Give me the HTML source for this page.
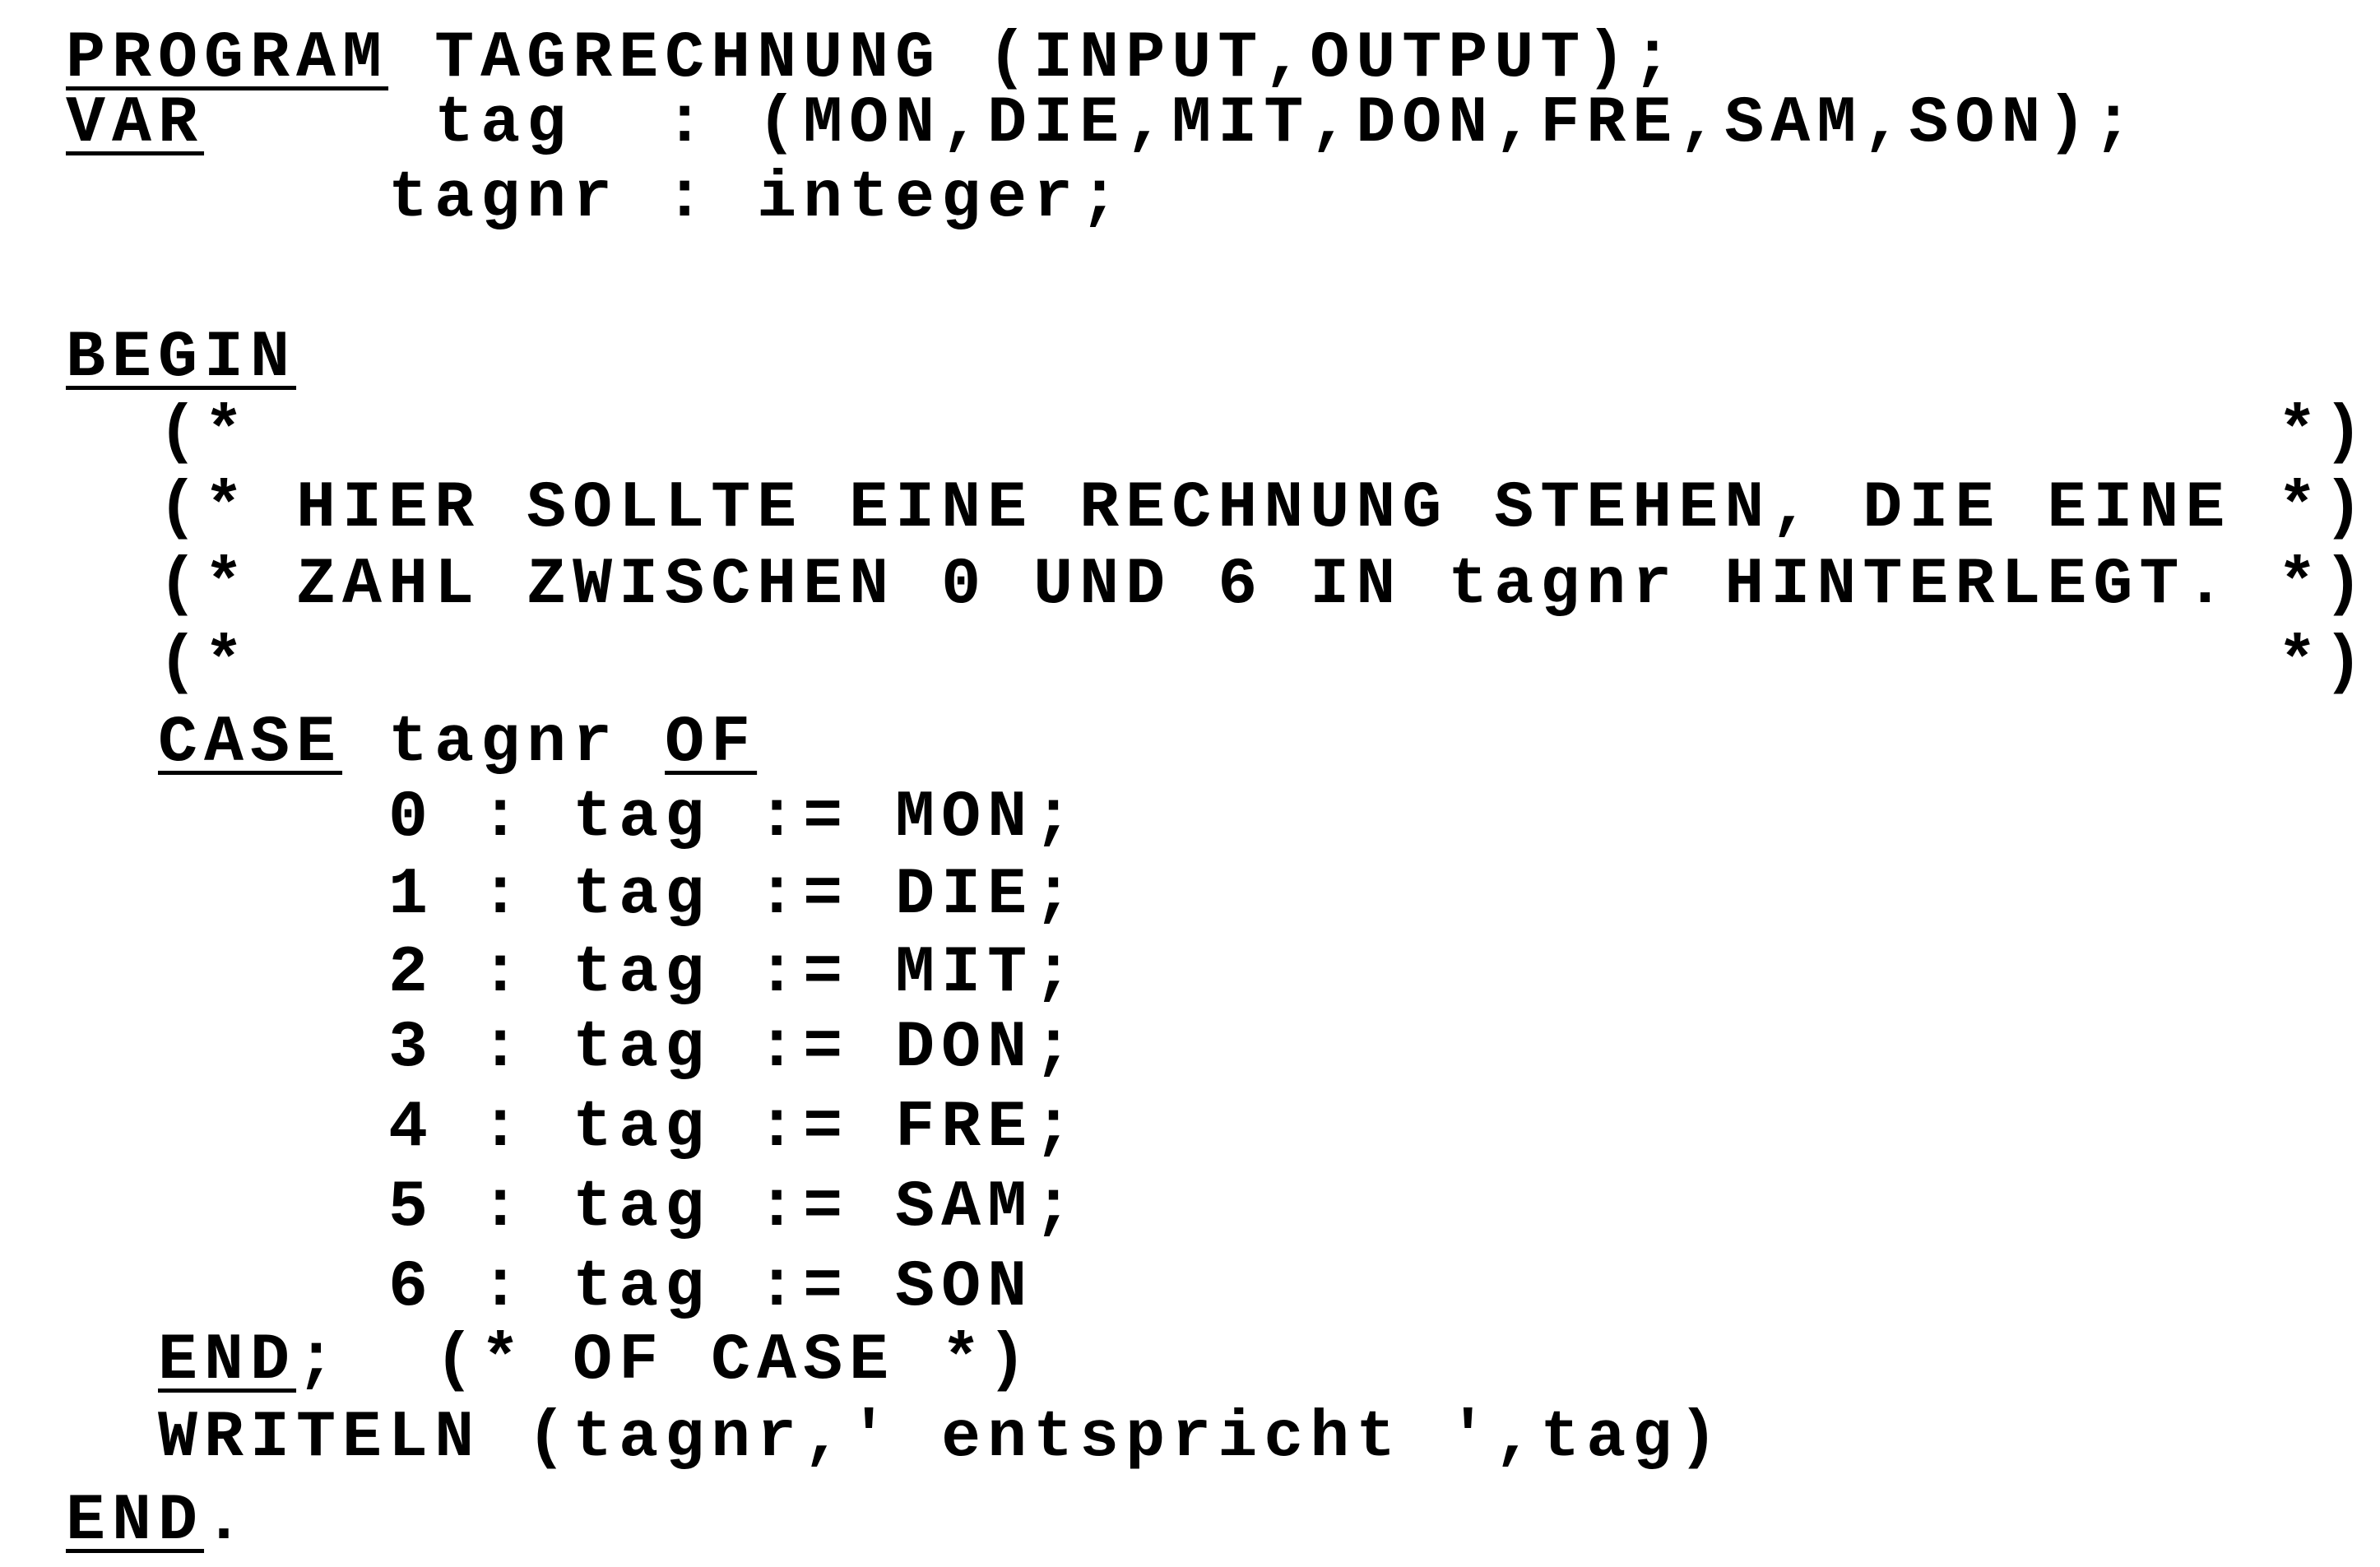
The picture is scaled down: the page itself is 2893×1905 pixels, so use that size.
<!DOCTYPE html>
<html><head><meta charset="utf-8"><style>
html,body{margin:0;padding:0;background:#fff;}
body{width:2893px;height:1905px;position:relative;overflow:hidden;}
.l{position:absolute;left:80px;height:100px;line-height:100px;white-space:pre;
font-family:"Liberation Mono",monospace;font-weight:bold;font-size:80px;letter-spacing:8px;color:#000;}
u{text-decoration:underline;text-decoration-thickness:5px;text-underline-offset:13px;}
</style></head><body>
<div class="l" style="top:22px"><u>PROGRAM</u> TAGRECHNUNG (INPUT,OUTPUT);</div>
<div class="l" style="top:101px"><u>VAR</u>     tag  : (MON,DIE,MIT,DON,FRE,SAM,SON);</div>
<div class="l" style="top:192px">       tagnr : integer;</div>
<div class="l" style="top:386px"><u>BEGIN</u></div>
<div class="l" style="top:477px">  (*                                            *)</div>
<div class="l" style="top:569px">  (* HIER SOLLTE EINE RECHNUNG STEHEN, DIE EINE *)</div>
<div class="l" style="top:662px">  (* ZAHL ZWISCHEN 0 UND 6 IN tagnr HINTERLEGT. *)</div>
<div class="l" style="top:757px">  (*                                            *)</div>
<div class="l" style="top:854px">  <u>CASE</u> tagnr <u>OF</u></div>
<div class="l" style="top:945px">       0 : tag := MON;</div>
<div class="l" style="top:1039px">       1 : tag := DIE;</div>
<div class="l" style="top:1134px">       2 : tag := MIT;</div>
<div class="l" style="top:1225px">       3 : tag := DON;</div>
<div class="l" style="top:1322px">       4 : tag := FRE;</div>
<div class="l" style="top:1419px">       5 : tag := SAM;</div>
<div class="l" style="top:1516px">       6 : tag := SON</div>
<div class="l" style="top:1605px">  <u>END</u>;  (* OF CASE *)</div>
<div class="l" style="top:1699px">  WRITELN (tagnr,' entspricht ',tag)</div>
<div class="l" style="top:1800px"><u>END</u>.</div>
</body></html>
